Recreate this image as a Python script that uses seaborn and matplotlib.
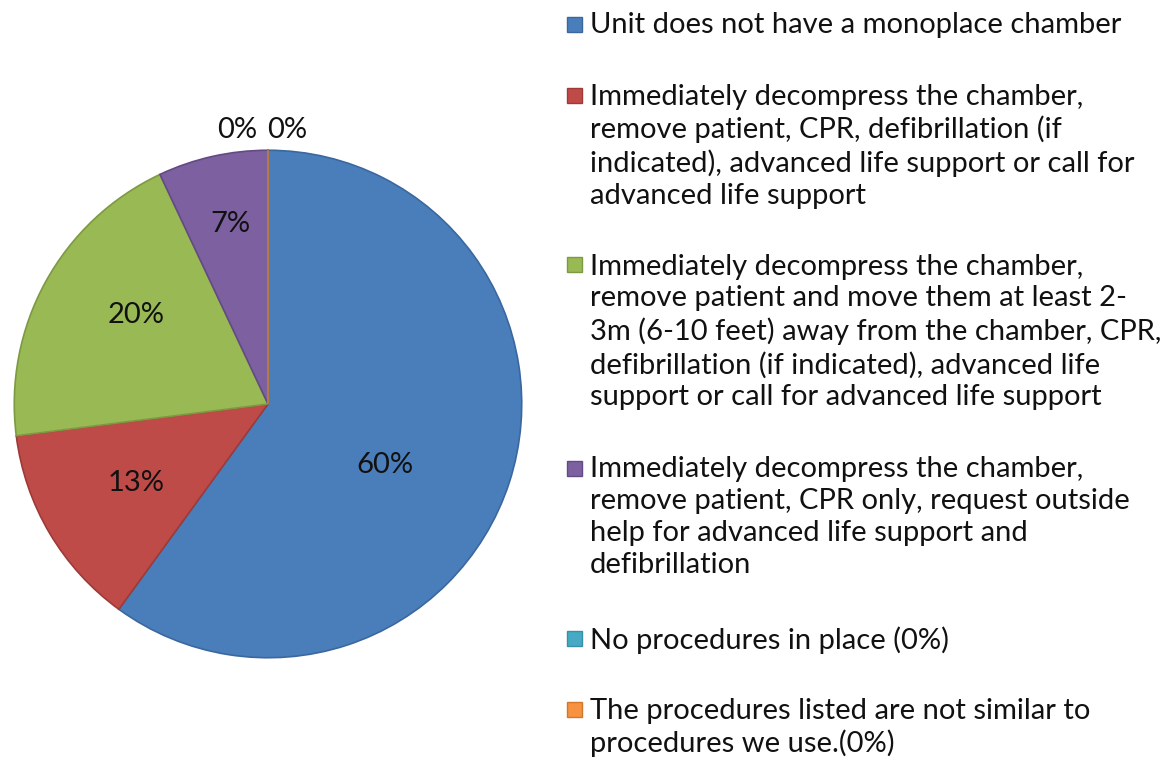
import matplotlib.pyplot as plt
import seaborn as sns
from matplotlib.patches import Rectangle

sns.set_theme(style="white")
plt.rcParams['font.family'] = ['Lato', 'DejaVu Sans']

# data
shares = [60, 13, 20, 7, 0, 0]
pct_labels = ['60%', '13%', '20%', '7%', '0%', '0%']
legend_labels = [
    "Unit does not have a monoplace chamber",
    "Immediately decompress the chamber,\nremove patient, CPR, defibrillation (if\nindicated), advanced life support or call for\nadvanced life support",
    "Immediately decompress the chamber,\nremove patient and move them at least 2-\n3m (6-10 feet) away from the chamber, CPR,\ndefibrillation (if indicated), advanced life\nsupport or call for advanced life support",
    "Immediately decompress the chamber,\nremove patient, CPR only, request outside\nhelp for advanced life support and\ndefibrillation",
    "No procedures in place (0%)",
    "The procedures listed are not similar to\nprocedures we use.(0%)",
]
colors = ['#4A7EBB', '#BE4B48', '#98B954', '#7D60A0', '#46AAC5', '#F69240']
edges = ['#3A679E', '#9E3A38', '#7D9A42', '#634A85', '#3A8EA5', '#D07830']

# label spots (in pie radius units), Excel "best fit" placement
label_xy = [(0.46, -0.24), (-0.52, -0.31), (-0.52, 0.35), (-0.15, 0.71),
            (-0.12, 1.08), (0.075, 1.08)]

W, H = 1173, 764
fig = plt.figure(figsize=(W / 100, H / 100), dpi=100)

cx, cy, r = 268, 404, 255
ax = fig.add_axes([(cx - r) / W, (H - cy - r) / H, 2 * r / W, 2 * r / H])
wedges, _ = ax.pie(shares, colors=colors, startangle=90, counterclock=False,
                   radius=1, wedgeprops=dict(linewidth=1.2))
for w, ec in zip(wedges, edges):
    w.set_edgecolor(ec)
ax.set_xlim(-1.005, 1.005)
ax.set_ylim(-1.005, 1.005)
ax.set_aspect('equal')
ax.axis('off')

for (x, y), t in zip(label_xy, pct_labels):
    ax.text(x, y, t, ha='center', va='center', fontsize=21, color='#111111',
            clip_on=False)

# legend drawn by hand so markers line up with the first line of each entry
fs = 21
line_h = 33
gap = 38
y = 24
for lab, col, ec in zip(legend_labels, colors, edges):
    sq = 15
    fig.add_artist(Rectangle(((574 - sq / 2) / W, (H - y - sq / 2) / H), sq / W, sq / H,
                             transform=fig.transFigure, facecolor=col,
                             edgecolor=ec, linewidth=1))
    fig.text(590 / W, (H - y + line_h / 2 - 5) / H, lab, ha='left', va='top',
             fontsize=fs, linespacing=1.28, color='#111111')
    y += lab.count('\n') * line_h + line_h + gap

fig.savefig('out.png', dpi=100)
